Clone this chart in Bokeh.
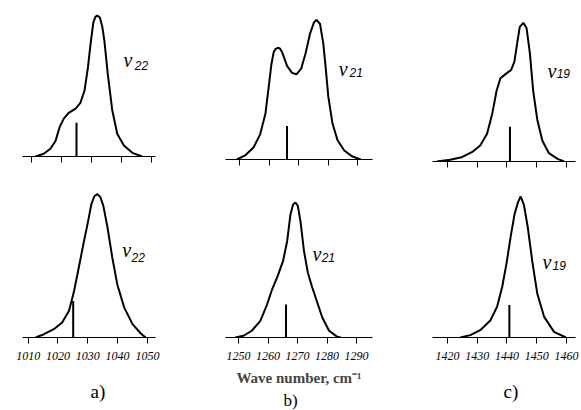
from bokeh.plotting import figure
from bokeh.layouts import row, column
from bokeh.models import Range1d, FixedTicker, Label, Title
from bokeh.embed import file_html
from bokeh.resources import INLINE

# ---------------- data ----------------
# intensities are normalised to each band's maximum
a_top_x = [1011.4, 1014.2, 1016.4, 1018.1, 1019.5, 1020.9, 1022.5, 1024.8, 1026.4, 1027.8,
           1028.9, 1029.8, 1030.7, 1031.4, 1032.0, 1032.9, 1033.7, 1034.4, 1035.5, 1037.0,
           1038.7, 1040.9, 1043.7, 1047.0]
a_top_y = [0.0, 0.02, 0.055, 0.11, 0.21, 0.27, 0.31, 0.34, 0.38, 0.47,
           0.63, 0.80, 0.95, 0.99, 1.0, 0.985, 0.92, 0.82, 0.59, 0.33,
           0.16, 0.078, 0.026, 0.0]

b_top_x = [1249.1, 1251.9, 1254.8, 1257.0, 1258.8, 1259.9, 1260.8, 1261.6, 1262.2, 1263.0,
           1263.7, 1264.4, 1266.1, 1267.8, 1269.3, 1270.9, 1272.4, 1273.9, 1275.2, 1276.1,
           1277.3, 1278.4, 1279.2, 1280.1, 1281.5, 1283.2, 1285.5, 1288.3, 1291.1]
b_top_y = [0.0, 0.029, 0.088, 0.18, 0.33, 0.52, 0.68, 0.77, 0.79, 0.80,
           0.795, 0.77, 0.67, 0.62, 0.61, 0.65, 0.76, 0.90, 0.98, 1.0,
           0.97, 0.83, 0.66, 0.45, 0.26, 0.14, 0.064, 0.021, 0.0]

c_top_x = [1416.4, 1420.9, 1424.8, 1428.2, 1431.0, 1433.3, 1435.0, 1436.5, 1437.8, 1439.5,
           1441.4, 1442.5, 1443.4, 1444.3, 1445.5, 1446.6, 1447.7, 1448.8, 1450.2, 1451.9,
           1454.1, 1457.0, 1459.2]
c_top_y = [0.0, 0.012, 0.031, 0.067, 0.115, 0.20, 0.34, 0.51, 0.60, 0.63,
           0.66, 0.72, 0.85, 0.97, 1.0, 0.96, 0.78, 0.51, 0.30, 0.15,
           0.06, 0.019, 0.0]

a_bot_x = [1012.5, 1015.3, 1018.6, 1021.4, 1023.7, 1025.4, 1027.0, 1028.7, 1030.1, 1031.2,
           1032.2, 1033.2, 1034.2, 1035.2, 1036.6, 1038.2, 1039.9, 1042.2, 1045.0, 1047.8,
           1049.4]
a_bot_y = [0.0, 0.023, 0.058, 0.104, 0.186, 0.325, 0.49, 0.67, 0.81, 0.93,
           0.985, 1.0, 0.98, 0.92, 0.77, 0.56, 0.37, 0.21, 0.093, 0.028,
           0.0]

b_bot_x = [1248.9, 1251.7, 1254.5, 1257.4, 1259.7, 1261.4, 1263.3, 1265.1, 1266.5, 1267.6,
           1268.5, 1269.3, 1270.1, 1271.0, 1272.2, 1273.5, 1275.0, 1276.7, 1278.4, 1280.7,
           1283.5, 1284.7]
b_bot_y = [0.0, 0.013, 0.05, 0.123, 0.246, 0.357, 0.456, 0.567, 0.715, 0.911,
           0.985, 1.0, 0.975, 0.862, 0.64, 0.48, 0.37, 0.259, 0.148, 0.05,
           0.005, 0.0]

c_bot_x = [1424.3, 1427.7, 1431.0, 1434.4, 1436.7, 1438.4, 1439.8, 1441.2, 1442.5, 1443.7,
           1444.6, 1445.7, 1447.0, 1448.5, 1450.2, 1452.5, 1455.8, 1459.8]
c_bot_y = [0.0, 0.017, 0.052, 0.12, 0.22, 0.36, 0.52, 0.71, 0.87, 0.96,
           1.0, 0.94, 0.78, 0.54, 0.31, 0.146, 0.04, 0.0]

# calculated line positions (sticks) and their heights
stick_x_top = [1025.1, 1266.1, 1441.0]
stick_h_top = [0.24, 0.24, 0.25]
stick_x_bot = [1025.1, 1266.1, 1440.8]
stick_h_bot = [0.255, 0.245, 0.23]

ticks_a = [1010, 1020, 1030, 1040, 1050]
ticks_b = [1250, 1260, 1270, 1280, 1290]
ticks_c = [1420, 1430, 1440, 1450, 1460]
tick_labels_a = ["1010", "1020", "1030", "1040", "1050"]
tick_labels_b = ["1250", "1260", "1270", "1280", "1290"]
tick_labels_c = ["1420", "1430", "1440", "1450", "1460"]

band_names = ["22", "21", "19"]
panel_letters = ["a)", "b)", "c)"]
x_title = "Wave number, cm\u207b\u00b9"

TICK_FONT = "Liberation Sans Narrow"


def panel(xs, ys, sx, sh, xr, yend, ticks, tlabels, fw, fh, L, R, T, B,
          show_labels, nu_pos, sub_pos, sub_text):
    p = figure(frame_width=fw, frame_height=fh, min_border_left=L, min_border_right=R,
               min_border_top=T, min_border_bottom=B,
               x_range=Range1d(*xr), y_range=Range1d(0, yend),
               y_axis_location=None, output_backend="svg", toolbar_location=None,
               tools="", background_fill_color="white", border_fill_color="white")
    p.grid.visible = False
    p.outline_line_color = None
    ax = p.xaxis[0]
    ax.ticker = FixedTicker(ticks=ticks, minor_ticks=[])
    ax.axis_line_color = "black"
    ax.axis_line_width = 1
    ax.major_tick_line_color = "black"
    ax.major_tick_line_width = 1
    ax.major_tick_out = 6
    ax.major_tick_in = 0
    ax.minor_tick_line_color = None
    if show_labels:
        ax.major_label_overrides = {t: l for t, l in zip(ticks, tlabels)}
        ax.major_label_text_font = TICK_FONT
        ax.major_label_text_font_style = "italic"
        ax.major_label_text_font_size = "12px"
        ax.major_label_text_color = "black"
        ax.major_label_standoff = 8
    else:
        ax.major_label_overrides = {t: "" for t in ticks}
        ax.major_label_standoff = 0
    p.line(xs, ys, line_color="black", line_width=2)
    p.segment(x0=[sx], y0=[0], x1=[sx], y1=[sh], line_color="black", line_width=2)
    p.add_layout(Label(x=nu_pos[0], y=nu_pos[1], text="\u03bd", text_font="Liberation Serif",
                       text_font_style="italic", text_font_size="20px",
                       text_baseline="alphabetic", text_align="left", text_color="black"))
    p.add_layout(Label(x=sub_pos[0], y=sub_pos[1], text=sub_text, text_font="Liberation Sans",
                       text_font_style="italic", text_font_size="12px",
                       text_baseline="alphabetic", text_align="left", text_color="black"))
    return p


ta = panel(a_top_x, a_top_y, stick_x_top[0], stick_h_top[0], (1007.1, 1051.43), 148 / 141,
           ticks_a, tick_labels_a, 133, 148, 22, 35, 8, 31, False,
           (1040.8, 0.681), (1044.5, 0.645), band_names[0])
tb = panel(b_top_x, b_top_y, stick_x_top[1], stick_h_top[1], (1245.25, 1295.08), 151 / 139.7,
           ticks_b, tick_labels_b, 147, 151, 35, 30, 8, 28, False,
           (1283.6, 0.651), (1287.3, 0.623), band_names[1])
tc = panel(c_top_x, c_top_y, stick_x_top[2], stick_h_top[2], (1414.96, 1463.03), 153 / 138.7,
           ticks_c, tick_labels_c, 143, 153, 30, 6, 8, 26, False,
           (1453.6, 0.656), (1456.7, 0.634), band_names[2])

ba = panel(a_bot_x, a_bot_y, stick_x_bot[0], stick_h_bot[0], (1008.09, 1052.72), 150 / 143.4,
           ticks_a, tick_labels_a, 133, 150, 22, 35, 0, 73, True,
           (1041.6, 0.607), (1044.7, 0.558), band_names[0])
bb = panel(b_bot_x, b_bot_y, stick_x_bot[1], stick_h_bot[1], (1245.59, 1295.42), 150 / 135.0,
           ticks_b, tick_labels_b, 147, 150, 35, 30, 0, 73, True,
           (1275.1, 0.622), (1278.2, 0.593), band_names[1])
bc = panel(c_bot_x, c_bot_y, stick_x_bot[2], stick_h_bot[2], (1414.96, 1463.03), 150 / 141.0,
           ticks_c, tick_labels_c, 143, 150, 30, 6, 0, 73, True,
           (1451.9, 0.532), (1455.3, 0.511), band_names[2])

bb.xaxis[0].axis_label = x_title
bb.xaxis[0].axis_label_text_font = "Liberation Serif"
bb.xaxis[0].axis_label_text_font_style = "bold"
bb.xaxis[0].axis_label_text_font_size = "15px"
bb.xaxis[0].axis_label_standoff = 7

for fig, letter, off, sto, fs in [(ba, panel_letters[0], 68, 32, "19px"),
                                  (bb, panel_letters[1], 58, 0, "17px"),
                                  (bc, panel_letters[2], 71, 32, "19px")]:
    fig.add_layout(Title(text=letter, align="left", offset=off, standoff=sto,
                         text_font="Liberation Serif", text_font_style="normal",
                         text_font_size=fs, text_color="black"), "below")

layout = column(row(ta, tb, tc, spacing=0), row(ba, bb, bc, spacing=0), spacing=0)

with open("out.html", "w") as f:
    f.write(file_html(layout, INLINE))
